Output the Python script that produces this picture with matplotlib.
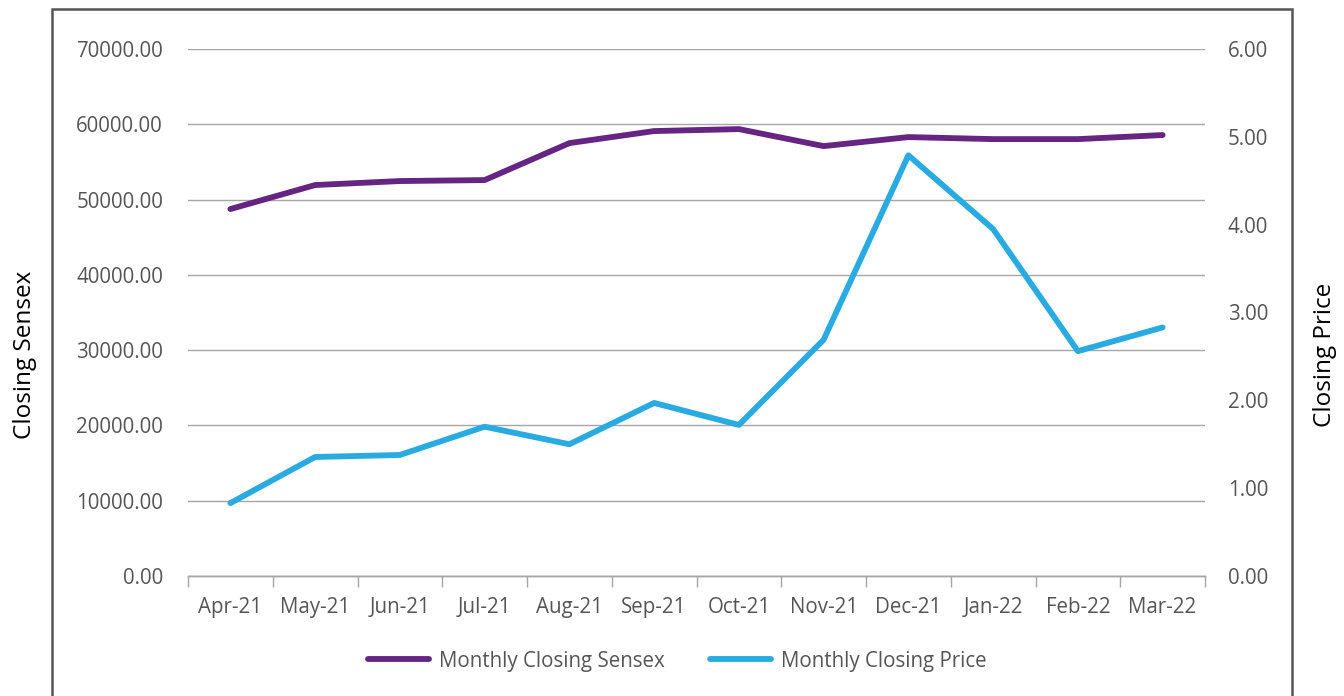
import matplotlib
matplotlib.use("Agg")
import matplotlib.pyplot as plt
import numpy as np
from matplotlib.patches import Rectangle

plt.rcParams['font.family'] = ['Open Sans', 'DejaVu Sans']

months = ["Apr-21", "May-21", "Jun-21", "Jul-21", "Aug-21", "Sep-21",
          "Oct-21", "Nov-21", "Dec-21", "Jan-22", "Feb-22", "Mar-22"]
sensex = [48740, 51930, 52460, 52590, 57500, 59100,
          59360, 57100, 58300, 58030, 58030, 58570]
price = [0.83, 1.355, 1.378, 1.70, 1.50, 1.97,
         1.72, 2.69, 4.79, 3.95, 2.56, 2.83]

purple = "#662483"
blue = "#29abe2"
txt = "#555555"
grid = "#a6a6a6"

fig = plt.figure(figsize=(13.44, 6.96), dpi=100)
ax = fig.add_axes([188/1344, 120/696, 1017/1344, 527/696])
ax2 = ax.twinx()

x = np.arange(len(months))
l1, = ax.plot(x, sensex, color=purple, lw=4.2, solid_capstyle='round', solid_joinstyle='round', zorder=3)
l2, = ax2.plot(x, price, color=blue, lw=4.2, solid_capstyle='round', solid_joinstyle='round', zorder=3)

ax.set_xlim(-0.5, len(months) - 0.5)
ax.set_ylim(0, 70000)
ax2.set_ylim(0, 6)
ax.set_yticks(np.arange(0, 70001, 10000))
ax.set_yticklabels([f"{v:.2f}" for v in np.arange(0, 70001, 10000)])
ax2.set_yticks(np.arange(0, 7, 1))
ax2.set_yticklabels([f"{v:.2f}" for v in np.arange(0, 7, 1)])

fs = 14.8
ax.set_xticks(x)
ax.set_xticklabels(months)
ax.set_xticks(np.arange(-0.5, len(months)), minor=True)
ax.tick_params(axis='x', which='major', length=0, pad=15, labelsize=fs, colors=txt)
ax.tick_params(axis='x', which='minor', length=8, width=1, color=grid, direction='out')
ax.tick_params(axis='y', length=0, pad=18, labelsize=fs, colors=txt)
ax2.tick_params(axis='y', length=0, pad=16.5, labelsize=fs, colors=txt)

ax.grid(axis='y', color=grid, lw=1)
ax.set_axisbelow(True)
for a in (ax, ax2):
    for s in ['top', 'left', 'right']:
        a.spines[s].set_visible(False)
    a.spines['bottom'].set_color(grid)
    a.spines['bottom'].set_linewidth(1)

fig.text(25/1344, 1 - 355/696, "Closing Sensex", rotation=90, ha='center', va='center', fontsize=17.5, color='black')
fig.text(1325/1344, 1 - 355/696, "Closing Price", rotation=90, ha='center', va='center', fontsize=17.5, color='black')

fig.legend([l1, l2], ["Monthly Closing Sensex", "Monthly Closing Price"],
           loc='center', bbox_to_anchor=(677/1344, 1 - 661/696), ncol=2, frameon=False,
           fontsize=fs, labelcolor=txt, handlelength=3.0, columnspacing=2.2, handletextpad=0.45)

fig.patches.append(Rectangle((52/1344, -0.05), 1240/1344, 1.05 - 9/696, transform=fig.transFigure,
                             fill=False, edgecolor="#555555", lw=1.8))

fig.savefig("out.png", dpi=100)
